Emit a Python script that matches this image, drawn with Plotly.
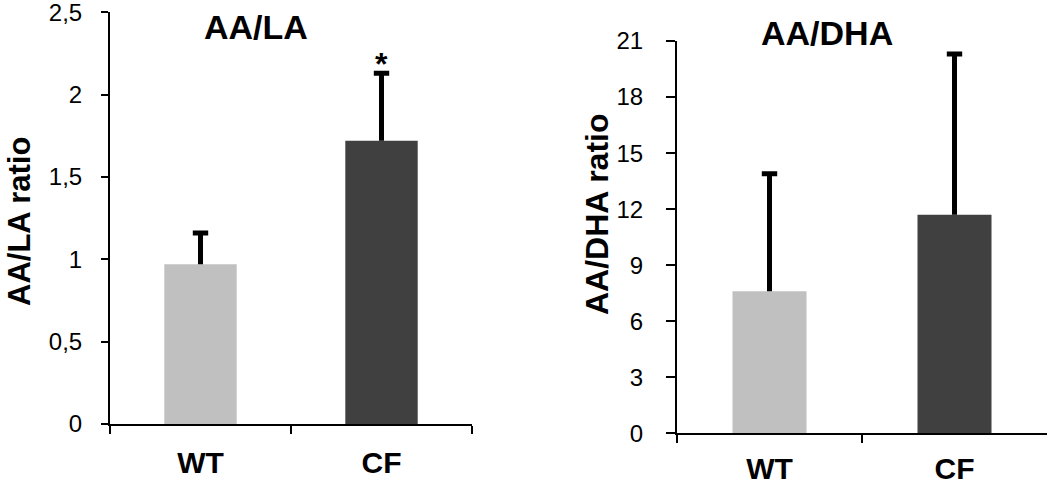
import plotly.graph_objects as go

categories = ["WT", "CF"]
bar_colors = ["#c0c0c0", "#404040"]

# AA/LA panel
la_values = [0.97, 1.72]
la_errors = [0.19, 0.41]
la_tickvals = [0, 0.5, 1, 1.5, 2, 2.5]
la_ticktext = ["0", "0,5", "1", "1,5", "2", "2,5"]

# AA/DHA panel
dha_values = [7.6, 11.7]
dha_errors = [6.3, 8.6]
dha_tickvals = [0, 3, 6, 9, 12, 15, 18, 21]
dha_ticktext = [str(v) for v in dha_tickvals]

FONT = "Arial, Liberation Sans, sans-serif"

fig = go.Figure()
for vals, errs, xa, ya in [(la_values, la_errors, "x", "y"),
                           (dha_values, dha_errors, "x2", "y2")]:
    fig.add_trace(go.Bar(
        x=categories, y=vals, marker=dict(color=bar_colors, line=dict(width=0)),
        width=0.4,
        error_y=dict(type="data", array=errs, arrayminus=[0, 0], symmetric=False,
                     color="black", thickness=5, width=0),
        xaxis=xa, yaxis=ya, showlegend=False, hoverinfo="skip"))
    # caps on top of the error bars
    fig.add_trace(go.Scatter(
        x=categories, y=[v + e for v, e in zip(vals, errs)], mode="markers",
        marker=dict(symbol="line-ew", size=11, line=dict(width=5, color="black")),
        xaxis=xa, yaxis=ya, showlegend=False, hoverinfo="skip"))

common_x = dict(showline=True, linecolor="black", linewidth=2, ticks="outside",
                tickson="boundaries", ticklen=8, tickwidth=2, tickcolor="black",
                showgrid=False, zeroline=False, automargin=False,
                tickfont=dict(family=FONT, size=30, color="black", weight="bold"))
common_y = dict(showline=True, linecolor="black", linewidth=2, ticks="outside",
                tickwidth=2, tickcolor="black", showgrid=False,
                zeroline=False, automargin=False, ticklabeloverflow="allow",
                tickfont=dict(family=FONT, size=24, color="black"))

fig.update_layout(
    width=1050, height=486, margin=dict(l=0, r=0, t=0, b=0, autoexpand=False),
    paper_bgcolor="white", plot_bgcolor="white", separators=", ",
    xaxis=dict(domain=[110/1050, 472/1050], anchor="y", ticklabelstandoff=11, **common_x),
    yaxis=dict(domain=[1-424/486, 1-12.3/486], anchor="x", range=[0, 2.5001],
               tickvals=la_tickvals, ticktext=la_ticktext, ticklabelstandoff=14,
               ticklen=7, **common_y),
    xaxis2=dict(domain=[677/1050, 1047/1050], anchor="y2", ticklabelstandoff=8, **common_x),
    yaxis2=dict(domain=[1-433.3/486, 1-41/486], anchor="x2", range=[0, 21.001],
                tickvals=dha_tickvals, ticktext=dha_ticktext, ticklabelstandoff=18,
                ticklen=9, **common_y),
)

ann_font_title = dict(family=FONT, size=34, color="black", weight="bold")
fig.add_annotation(text="AA/LA", x=256/1050, y=1-27.5/486, xref="paper", yref="paper",
                   showarrow=False, font=ann_font_title, xanchor="center", yanchor="middle")
fig.add_annotation(text="AA/DHA", x=827/1050, y=1-33/486, xref="paper", yref="paper",
                   showarrow=False, font=ann_font_title, xanchor="center", yanchor="middle")
fig.add_annotation(text="AA/LA ratio", x=19/1050, y=1-222/486, xref="paper", yref="paper",
                   showarrow=False, textangle=-90,
                   font=dict(family=FONT, size=31, color="black", weight="bold"),
                   xanchor="center", yanchor="middle")
fig.add_annotation(text="AA/DHA ratio", x=597/1050, y=1-215/486, xref="paper", yref="paper",
                   showarrow=False, textangle=-90,
                   font=dict(family=FONT, size=32, color="black", weight="bold"),
                   xanchor="center", yanchor="middle")
# significance marker above CF error bar
fig.add_annotation(text="*", x="CF", y=la_values[1] + la_errors[1], xref="x", yref="y",
                   showarrow=False, yanchor="bottom", yshift=-11,
                   font=dict(family=FONT, size=32, color="black", weight="bold"))

fig.write_html("out.html", config={"displayModeBar": False},
               post_script="document.body.style.margin='0';document.body.style.overflow='hidden';")
